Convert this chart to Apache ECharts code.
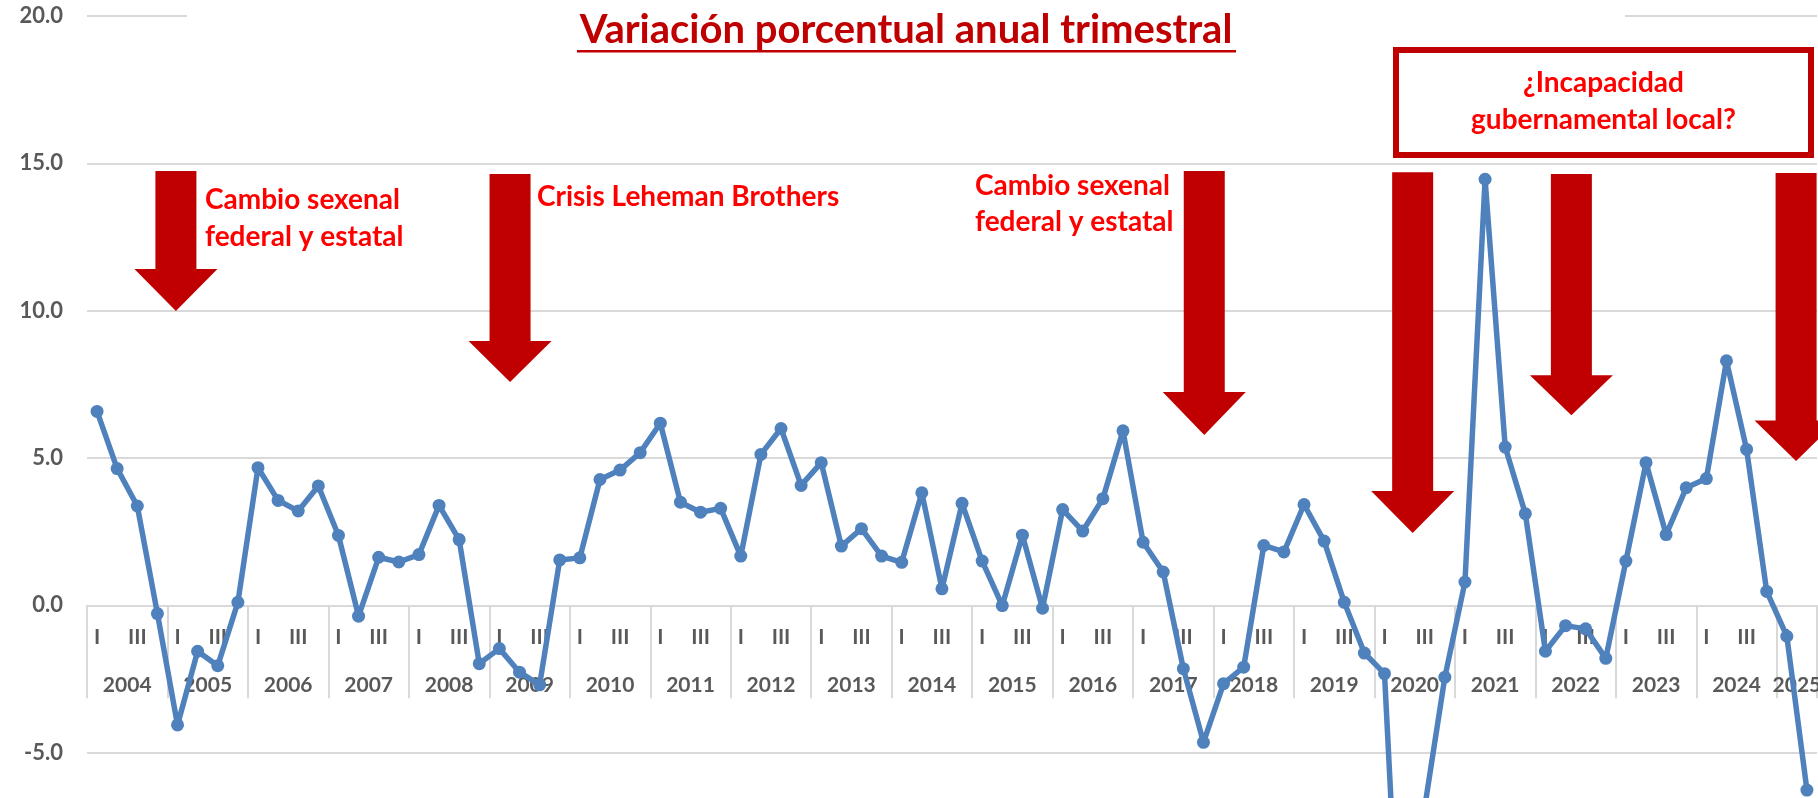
<!DOCTYPE html>
<html>
<head>
<meta charset="utf-8">
<title>Variación porcentual anual trimestral</title>
<script src="https://cdn.jsdelivr.net/npm/echarts@6/dist/echarts.min.js"></script>
<style>
  html, body { margin: 0; padding: 0; background: #fff; }
  #chart { width: 1818px; height: 798px; }
</style>
</head>
<body>
<div id="chart"></div>
<script>
  // datos trimestrales (variación % anual)
  var years = ['2004', '2005', '2006', '2007', '2008', '2009', '2010', '2011', '2012', '2013', '2014',
    '2015', '2016', '2017', '2018', '2019', '2020', '2021', '2022', '2023', '2024', '2025'];
  var quarters = ['I', 'II', 'III', 'IV'];
  var values = [
    6.58, 4.64, 3.37, -0.28,
    -4.06, -1.56, -2.05, 0.10,
    4.67, 3.56, 3.20, 4.05,
    2.37, -0.37, 1.63, 1.47,
    1.72, 3.39, 2.23, -1.98,
    -1.47, -2.27, -2.70, 1.54,
    1.61, 4.27, 4.59, 5.18,
    6.18, 3.50, 3.16, 3.29,
    1.67, 5.12, 6.00, 4.07,
    4.84, 2.01, 2.60, 1.67,
    1.46, 3.82, 0.56, 3.46,
    1.50, -0.01, 2.38, -0.10,
    3.25, 2.52, 3.62, 5.92,
    2.14, 1.13, -2.15, -4.65,
    -2.66, -2.10, 2.03, 1.81,
    3.42, 2.18, 0.10, -1.62,
    -2.32, -15.7, -6.85, -2.44,
    0.79, 14.46, 5.37, 3.11,
    -1.56, -0.69, -0.80, -1.80,
    1.50, 4.84, 2.40, 3.99,
    4.30, 8.30, 5.29, 0.47,
    -1.05, -6.27
  ];
  var yMin = -20, yMax = 20, yStep = 5;

  // flechas: posición en trimestres (índice) y valores del eje y (inicio, cuello, punta)
  var arrowMarks = [
    [3.92, 14.74, 11.41, 9.99],
    [20.53, 14.64, 8.97, 7.58],
    [55.04, 14.74, 7.24, 5.78],
    [65.40, 14.70, 3.88, 2.45],
    [73.29, 14.64, 7.81, 6.45],
    [84.46, 14.67, 6.27, 4.90]
  ];

  var categories = [];
  for (var k = 0; k < values.length; k++) {
    categories.push(quarters[k % 4]);
  }

  // eje de años: una categoría por frontera entre trimestres
  var yearSlots = [];
  for (var b = 0; b <= values.length; b++) yearSlots.push('');
  var yearEdges = {};
  years.forEach(function (yr, i) {
    var start = i * 4;
    var n = Math.min(4, values.length - start);
    yearSlots[start + n / 2] = yr;
    yearEdges[start] = true;
    yearEdges[start + n] = true;
  });

  var arrowData = arrowMarks.map(function (a) {
    var i = Math.floor(a[0]);
    return [i, a[0] - i, a[1], a[2], a[3]];
  });

  var gray = '#595959';
  var gridGray = '#D9D9D9';
  var font = 'Lato';

  // escala vertical: 20 puntos = 589 px
  var plotTop = 16, unitPx = 29.465;
  var mainHeight = (yMax - yMin) * unitPx;
  var upperHeight = yMax * unitPx;

  var chart = echarts.init(document.getElementById('chart'));
  chart.setOption({
    animation: false,
    backgroundColor: '#fff',
    textStyle: { fontFamily: font },
    grid: [
      { left: 87, right: 1, top: plotTop, height: mainHeight, containLabel: false, outerBoundsMode: 'none' },
      // rejilla auxiliar cuyo borde inferior coincide con el cero
      { left: 87, right: 1, top: plotTop, height: upperHeight, containLabel: false, outerBoundsMode: 'none' }
    ],
    xAxis: [{
      type: 'category',
      gridIndex: 1,
      data: categories,
      position: 'bottom',
      boundaryGap: true,
      axisLine: { onZero: false, lineStyle: { color: gridGray, width: 2 } },
      axisTick: { show: false },
      axisLabel: {
        interval: function (idx) { return idx % 2 === 0; },
        color: gray, fontSize: 21, fontWeight: 'bold', fontFamily: font, margin: 21
      },
      splitLine: { show: false }
    }, {
      type: 'category',
      gridIndex: 1,
      data: yearSlots,
      position: 'bottom',
      boundaryGap: false,
      axisLine: { show: false, onZero: false },
      axisTick: {
        show: true,
        interval: function (idx) { return !!yearEdges[idx]; },
        length: 93,
        lineStyle: { color: gridGray, width: 2 }
      },
      axisLabel: {
        interval: function (idx, val) { return val !== ''; },
        color: gray, fontSize: 21, fontWeight: 'bold', fontFamily: font, margin: 69
      },
      splitLine: { show: false }
    }, {
      type: 'category',
      gridIndex: 0,
      data: categories,
      boundaryGap: true,
      show: false
    }],
    yAxis: [{
      type: 'value',
      gridIndex: 0,
      min: yMin,
      max: yMax,
      interval: yStep,
      axisLine: { show: false },
      axisTick: { show: false },
      axisLabel: {
        formatter: function (v) { return v.toFixed(1); },
        color: gray, fontSize: 22, fontWeight: 'bold', fontFamily: font, margin: 24
      },
      splitLine: { lineStyle: { color: gridGray, width: 2 } }
    }, {
      type: 'value',
      gridIndex: 1,
      min: 0,
      max: yMax,
      show: false
    }],
    series: [{
      type: 'custom',
      name: 'flechas',
      xAxisIndex: 2,
      yAxisIndex: 0,
      clip: false,
      z: 3,
      encode: { x: 0, y: [2, 3, 4] },
      data: arrowData,
      renderItem: function (params, api) {
        var band = api.size([1, 0])[0];
        var top = api.coord([api.value(0), api.value(2)]);
        var neck = api.coord([api.value(0), api.value(3)]);
        var tip = api.coord([api.value(0), api.value(4)]);
        var cx = top[0] + api.value(1) * band;
        var sw = 20.5, hw = 41.5;
        return {
          type: 'polygon',
          shape: {
            points: [[cx - sw, top[1]], [cx + sw, top[1]], [cx + sw, neck[1]], [cx + hw, neck[1]],
              [cx, tip[1]], [cx - hw, neck[1]], [cx - sw, neck[1]]]
          },
          style: { fill: '#C00000' }
        };
      }
    }, {
      type: 'line',
      name: 'variación',
      xAxisIndex: 2,
      yAxisIndex: 0,
      data: values,
      z: 5,
      symbol: 'circle',
      symbolSize: 13,
      showAllSymbol: true,
      lineStyle: { color: '#4F81BD', width: 5.5 },
      itemStyle: { color: '#4F81BD' }
    }],
    graphic: [
      // fondo blanco del título
      { type: 'rect', z: 10, shape: { x: 187, y: 0, width: 1438, height: 40 }, style: { fill: '#fff' } },
      {
        type: 'text', z: 11, x: 906, y: 30,
        style: { text: 'Variación porcentual anual trimestral', fill: '#C00000', font: 'bold 40px Lato', align: 'center', verticalAlign: 'middle' }
      },
      { type: 'rect', z: 11, shape: { x: 577, y: 50, width: 659, height: 2.5 }, style: { fill: '#C00000' } },
      {
        type: 'text', z: 11, x: 205, y: 218.5,
        style: { text: 'Cambio sexenal\nfederal y estatal', fill: '#FF0000', font: 'bold 28px Lato', lineHeight: 37, align: 'left', verticalAlign: 'middle' }
      },
      {
        type: 'text', z: 11, x: 537, y: 197,
        style: { text: 'Crisis Leheman Brothers', fill: '#FF0000', font: 'bold 28px Lato', align: 'left', verticalAlign: 'middle' }
      },
      {
        type: 'text', z: 11, x: 975, y: 203.7,
        style: { text: 'Cambio sexenal\nfederal y estatal', fill: '#FF0000', font: 'bold 28px Lato', lineHeight: 36, align: 'left', verticalAlign: 'middle' }
      },
      {
        type: 'rect', z: 11, shape: { x: 1396, y: 50, width: 415, height: 105 },
        style: { fill: '#fff', stroke: '#C00000', lineWidth: 6 }
      },
      {
        type: 'text', z: 12, x: 1603.5, y: 101.7,
        style: { text: '¿Incapacidad\ngubernamental local?', fill: '#FF0000', font: 'bold 28px Lato', lineHeight: 37, align: 'center', verticalAlign: 'middle' }
      }
    ]
  });
</script>
</body>
</html>
